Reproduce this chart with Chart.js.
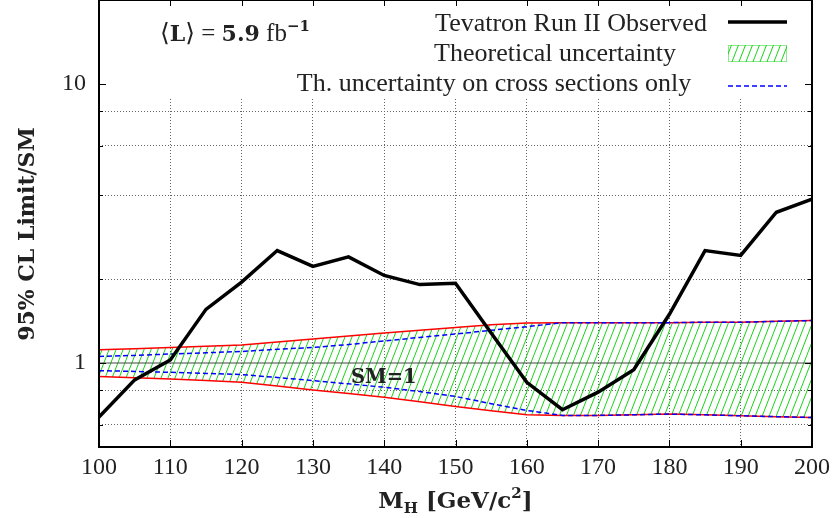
<!DOCTYPE html>
<html>
<head>
<meta charset="utf-8">
<script src="https://cdn.jsdelivr.net/npm/chart.js@4.4.0/dist/chart.umd.min.js"></script>
<style>
  html, body { margin: 0; padding: 0; background: #fff; }
  #wrap { width: 837px; height: 518px; }
</style>
</head>
<body>
<div id="wrap"><canvas id="limitChart" width="837" height="518"></canvas></div>
<script>
// Higgs mass points (GeV/c^2)
const massPoints = [100, 105, 110, 115, 120, 125, 130, 135, 140, 145, 150,
                    155, 160, 165, 170, 175, 180, 185, 190, 195, 200];

// observed 95% CL limit / SM
const observedLimit = [0.64, 0.87, 1.025, 1.557, 1.95, 2.53, 2.22, 2.40, 2.06, 1.91, 1.93,
                       1.28, 0.853, 0.68, 0.786, 0.946, 1.495, 2.53, 2.43, 3.47, 3.87];

// theoretical uncertainty band (red edges)
const theoUpper = [1.115, 1.125, 1.137, 1.148, 1.16, 1.19, 1.22, 1.25, 1.28, 1.31, 1.34,
                   1.37, 1.39, 1.395, 1.395, 1.395, 1.395, 1.40, 1.40, 1.41, 1.42];
const theoLower = [0.894, 0.886, 0.877, 0.866, 0.853, 0.827, 0.80, 0.777, 0.754, 0.726, 0.698,
                   0.675, 0.653, 0.649, 0.649, 0.652, 0.656, 0.652, 0.647, 0.642, 0.638];

// uncertainty on cross sections only (blue dashed)
const xsecUpper = [1.056, 1.065, 1.077, 1.088, 1.10, 1.12, 1.137, 1.165, 1.20, 1.235, 1.27,
                   1.31, 1.35, 1.395, 1.395, 1.395, 1.395, 1.40, 1.40, 1.41, 1.42];
const xsecLower = [0.939, 0.933, 0.926, 0.918, 0.909, 0.887, 0.865, 0.842, 0.819, 0.79, 0.759,
                   0.715, 0.676, 0.649, 0.649, 0.652, 0.656, 0.652, 0.647, 0.642, 0.638];

const smMass = [100, 200];
const smValue = [1, 1];

const xTickValues = [100, 110, 120, 130, 140, 150, 160, 170, 180, 190, 200];
const yTickValues = [0.6, 0.8, 1, 2, 4, 6, 8, 10];
const yLabelled = [1, 10];

const SERIF = "'Liberation Serif', 'DejaVu Serif', serif";
const BSERIF = "'DejaVu Serif', 'Liberation Serif', serif";
const TEXT = '#222';

function pts(xs, ys) {
    return xs.map((x, i) => ({ x: x, y: ys[i] }));
}

// green "////" hatch
function makeHatch() {
    const c = document.createElement('canvas');
    c.width = 7; c.height = 18;
    const g = c.getContext('2d');
    g.strokeStyle = '#18d418';
    g.lineWidth = 1;
    [-7, 0, 7].forEach(dx => {
        g.beginPath();
        g.moveTo(dx, 18);
        g.lineTo(dx + 7, 0);
        g.stroke();
    });
    return g.createPattern(c, 'repeat');
}
const hatch = makeHatch();

function runs(ctx, parts, x, y) {
    // draws text pieces one after another, returns end x
    parts.forEach(p => {
        ctx.font = p.font;
        ctx.fillText(p.t, x, y + (p.dy || 0));
        x += ctx.measureText(p.t).width;
    });
    return x;
}
function runsWidth(ctx, parts) {
    let w = 0;
    parts.forEach(p => { ctx.font = p.font; w += ctx.measureText(p.t).width; });
    return w;
}

const decoPlugin = {
    id: 'deco',
    beforeDatasetsDraw(chart) {
        // opaque key area at the top of the frame
        const a = chart.chartArea;
        const ctx = chart.ctx;
        ctx.save();
        ctx.fillStyle = '#fff';
        ctx.fillRect(a.left, a.top, a.right - a.left, 97 - a.top);
        ctx.restore();
    },
    afterDraw(chart) {
        const ctx = chart.ctx;
        const a = chart.chartArea;
        const xs = chart.scales.x, ys = chart.scales.y;
        ctx.save();

        // tick marks pointing inwards
        ctx.strokeStyle = '#000';
        ctx.lineWidth = 1;
        xTickValues.slice(1, -1).forEach(v => {
            const px = Math.round(xs.getPixelForValue(v)) + 0.5;
            ctx.beginPath();
            ctx.moveTo(px, a.bottom); ctx.lineTo(px, a.bottom - 7);
            ctx.moveTo(px, a.top); ctx.lineTo(px, a.top + 6);
            ctx.stroke();
        });
        yTickValues.forEach(v => {
            const py = Math.round(ys.getPixelForValue(v)) + 0.5;
            const len = yLabelled.includes(v) ? 7 : 4;
            ctx.beginPath();
            ctx.moveTo(a.left, py); ctx.lineTo(a.left + len, py);
            ctx.moveTo(a.right, py); ctx.lineTo(a.right - len, py);
            ctx.stroke();
        });

        // frame
        ctx.lineWidth = 2;
        ctx.strokeRect(a.left, a.top, a.right - a.left, a.bottom - a.top);

        // key
        const ds = chart.data.datasets;
        ctx.fillStyle = TEXT;
        ctx.textBaseline = 'alphabetic';
        ctx.textAlign = 'center';
        ctx.font = '26px ' + SERIF;
        ctx.fillText(ds[0].label, 571, 30.5);
        ctx.fillText(ds[5].label, 555, 61);
        ctx.fillText(ds[2].label, 494, 91);

        ctx.strokeStyle = '#000';
        ctx.lineWidth = 3.5;
        ctx.beginPath(); ctx.moveTo(728, 22); ctx.lineTo(787, 22); ctx.stroke();

        ctx.fillStyle = hatch;
        ctx.fillRect(728, 45, 59, 17);
        ctx.strokeStyle = '#18d418';
        ctx.lineWidth = 1;
        ctx.setLineDash([1, 1]);
        ctx.strokeRect(728.5, 45.5, 58, 16);

        ctx.strokeStyle = '#0000ff';
        ctx.lineWidth = 1.5;
        ctx.setLineDash([5, 3]);
        ctx.beginPath(); ctx.moveTo(728, 86); ctx.lineTo(787, 86); ctx.stroke();
        ctx.setLineDash([]);

        // luminosity label
        ctx.fillStyle = TEXT;
        ctx.textAlign = 'left';
        const reg = '25px ' + SERIF, bold = 'bold 22px ' + BSERIF;
        runs(ctx, [
            { t: '\u27E8', font: reg },
            { t: 'L', font: bold },
            { t: '\u27E9', font: reg },
            { t: ' = ', font: reg },
            { t: '5.9', font: bold },
            { t: ' fb', font: reg },
            { t: '\u22121', font: 'bold 15px ' + BSERIF, dy: -10 }
        ], 160, 41);

        // SM=1
        ctx.font = 'bold 19.5px ' + BSERIF;
        ctx.fillText('SM=1', 351, 383);

        // x title
        const bBig = 'bold 23px ' + BSERIF, bSmall = 'bold 15px ' + BSERIF;
        const xParts = [
            { t: 'M', font: bBig },
            { t: 'H', font: bSmall, dy: 5 },
            { t: ' [GeV/c', font: bBig },
            { t: '2', font: bSmall, dy: -10 },
            { t: ']', font: bBig }
        ];
        const xc = (a.left + a.right) / 2;
        runs(ctx, xParts, xc - runsWidth(ctx, xParts) / 2, 508);

        // y title
        ctx.translate(34, 234);
        ctx.rotate(-Math.PI / 2);
        ctx.textAlign = 'center';
        ctx.font = 'bold 22px ' + BSERIF;
        ctx.fillText('95% CL Limit/SM', 0, 0);

        ctx.restore();
    }
};

const clear = 'rgba(0,0,0,0)';

new Chart(document.getElementById('limitChart'), {
    type: 'line',
    data: {
        datasets: [
            {
                label: 'Tevatron Run II Observed',
                data: pts(massPoints, observedLimit),
                borderColor: '#000',
                borderWidth: 3.5,
                fill: false
            },
            {
                label: 'SM',
                data: pts(smMass, smValue),
                borderColor: '#444',
                borderWidth: 1,
                fill: false
            },
            {
                label: 'Th. uncertainty on cross sections only',
                data: pts(massPoints, xsecUpper),
                borderColor: '#0000ff',
                borderWidth: 1.5,
                borderDash: [5, 3],
                fill: false
            },
            {
                label: 'xsec lower',
                data: pts(massPoints, xsecLower),
                borderColor: '#0000ff',
                borderWidth: 1.5,
                borderDash: [5, 3],
                fill: false
            },
            {
                label: 'theory upper',
                data: pts(massPoints, theoUpper),
                borderColor: '#ff0000',
                borderWidth: 1.5,
                fill: false
            },
            {
                label: 'Theoretical uncertainty',
                data: pts(massPoints, theoLower),
                borderColor: '#ff0000',
                borderWidth: 1.5,
                backgroundColor: hatch,
                fill: 4
            }
        ]
    },
    options: {
        responsive: false,
        animation: false,
        devicePixelRatio: 1,
        layout: { padding: { top: 0, right: 25, bottom: 0, left: 0 } },
        elements: {
            point: { radius: 0, hoverRadius: 0 },
            line: { tension: 0 }
        },
        plugins: {
            legend: { display: false },
            tooltip: { enabled: false },
            filler: { propagate: false }
        },
        scales: {
            x: {
                type: 'linear',
                min: 100,
                max: 200,
                afterBuildTicks: s => { s.ticks = xTickValues.map(v => ({ value: v })); },
                afterFit: s => { s.height = 71; s.paddingLeft = 0; s.paddingRight = 0; },
                grid: {
                    color: c => (c.tick && c.tick.value > 100 && c.tick.value < 200) ? '#666' : clear,
                    lineWidth: 1,
                    drawTicks: false
                },
                border: { display: false, dash: [1, 2] },
                ticks: {
                    font: { family: SERIF, size: 24 },
                    color: TEXT,
                    padding: 6,
                    maxRotation: 0,
                    autoSkip: false,
                    callback: v => String(v)
                }
            },
            y: {
                type: 'logarithmic',
                min: 0.5,
                max: 20,
                afterBuildTicks: s => { s.ticks = yTickValues.map(v => ({ value: v })); },
                afterFit: s => { s.width = 99; s.paddingTop = 0; s.paddingBottom = 0; },
                grid: {
                    color: c => (c.tick && !yLabelled.includes(c.tick.value)) ? '#666' : clear,
                    lineWidth: 1,
                    drawTicks: false
                },
                border: { display: false, dash: [1, 2] },
                ticks: {
                    font: { family: SERIF, size: 24 },
                    color: TEXT,
                    padding: 13,
                    autoSkip: false,
                    callback: v => yLabelled.includes(v) ? String(v) : ''
                }
            }
        }
    },
    plugins: [decoPlugin]
});
</script>
</body>
</html>
